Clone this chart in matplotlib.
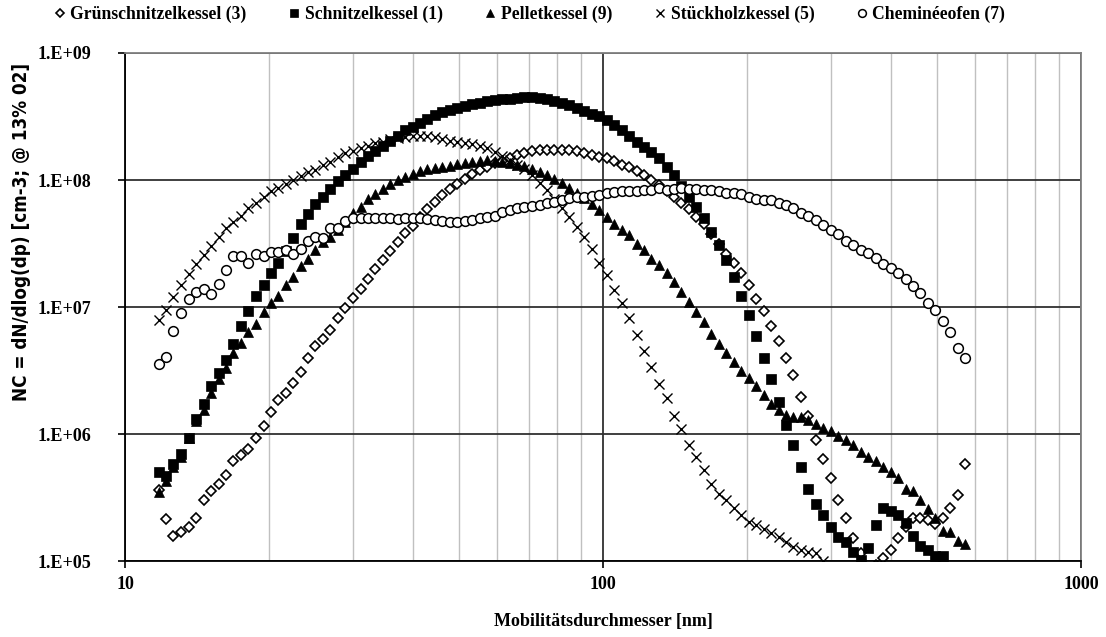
import numpy as np
import matplotlib
matplotlib.use("Agg")
import matplotlib.pyplot as plt
from matplotlib.ticker import LogLocator, FuncFormatter, NullLocator, FixedLocator

# SMPS channels (64 / decade) [nm]
dp = [11.8, 12.2, 12.6, 13.1, 13.6, 14.1, 14.6, 15.1, 15.7, 16.3,
      16.8, 17.5, 18.1, 18.8, 19.5, 20.2, 20.9, 21.7, 22.5, 23.3,
      24.1, 25.0, 25.9, 26.9, 27.9, 28.9, 30.0, 31.1, 32.2, 33.4,
      34.6, 35.9, 37.2, 38.5, 40.0, 41.4, 42.9, 44.5, 46.1, 47.8,
      49.6, 51.4, 53.3, 55.2, 57.3, 59.4, 61.5, 63.8, 66.1, 68.5,
      71.0, 73.7, 76.4, 79.1, 82.0, 85.1, 88.2, 91.4, 94.7, 98.2,
      101.8, 105.5, 109.4, 113.4, 117.6, 121.9, 126.3, 131.0, 135.8, 140.7,
      145.9, 151.2, 156.8, 162.5, 168.5, 174.7, 181.1, 187.7, 194.6, 201.7,
      209.1, 216.7, 224.7, 232.9, 241.4, 250.3, 259.5, 269.0, 278.8, 289.0,
      299.6, 310.6, 322.0, 333.8, 346.0, 358.7, 371.8, 385.4, 399.5, 414.2,
      429.4, 445.1, 461.4, 478.3, 495.8, 514.0, 532.8, 552.3, 572.5]

# log10(dN/dlogdp)
gruen_log = [5.56, 5.33, 5.20, 5.23, 5.27, 5.34, 5.48, 5.55, 5.61, 5.68,
             5.79, 5.835, 5.88, 5.97, 6.06, 6.17, 6.27, 6.32, 6.40, 6.49,
             6.60, 6.69, 6.75, 6.82, 6.91, 6.99, 7.07, 7.14, 7.22, 7.30,
             7.37, 7.44, 7.51, 7.58, 7.64, 7.71, 7.77, 7.83, 7.88, 7.93,
             7.97, 8.01, 8.045, 8.075, 8.10, 8.13, 8.15, 8.17, 8.195, 8.215,
             8.23, 8.235, 8.24, 8.24, 8.24, 8.235, 8.225, 8.21, 8.195, 8.185,
             8.17, 8.15, 8.12, 8.10, 8.07, 8.04, 8.00, 7.96, 7.91, 7.865,
             7.82, 7.77, 7.71, 7.65, 7.575, 7.50, 7.42, 7.35, 7.265, 7.17,
             7.065, 6.97, 6.85, 6.735, 6.60, 6.465, 6.29, 6.14, 5.95, 5.80,
             5.65, 5.48, 5.34, 5.18, 5.065, 4.93, 4.97, 5.02, 5.09, 5.18,
             5.27, 5.34, 5.34, 5.32, 5.29, 5.34, 5.42, 5.52, 5.76]

schnitzel_log = [5.70, 5.67, 5.76, 5.84, 5.97, 6.12, 6.24, 6.38, 6.48, 6.58,
                 6.71, 6.85, 6.97, 7.09, 7.17, 7.27, 7.35, 7.44, 7.54, 7.65,
                 7.73, 7.81, 7.87, 7.93, 7.99, 8.04, 8.09, 8.14, 8.19, 8.23,
                 8.27, 8.31, 8.35, 8.39, 8.42, 8.45, 8.48, 8.51, 8.535, 8.555,
                 8.57, 8.585, 8.60, 8.61, 8.62, 8.63, 8.635, 8.64, 8.645, 8.65,
                 8.65, 8.645, 8.635, 8.625, 8.61, 8.59, 8.57, 8.545, 8.52, 8.50,
                 8.47, 8.43, 8.39, 8.35, 8.30, 8.26, 8.22, 8.17, 8.10, 8.04,
                 7.95, 7.87, 7.79, 7.70, 7.59, 7.49, 7.37, 7.24, 7.09, 6.94,
                 6.77, 6.60, 6.43, 6.25, 6.07, 5.91, 5.74, 5.57, 5.45, 5.36,
                 5.27, 5.19, 5.15, 5.07, 5.01, 5.10, 5.28, 5.42, 5.39, 5.36,
                 5.30, 5.20, 5.12, 5.09, 5.04, 5.04]

pellet_log = [5.54, 5.63, 5.74, 5.82, 5.97, 6.10, 6.19, 6.32, 6.43, 6.52,
              6.64, 6.72, 6.80, 6.87, 6.96, 7.03, 7.09, 7.17, 7.24, 7.32,
              7.38, 7.45, 7.51, 7.555, 7.61, 7.67, 7.74, 7.79, 7.85, 7.89,
              7.93, 7.965, 8.00, 8.02, 8.05, 8.07, 8.085, 8.095, 8.10, 8.11,
              8.125, 8.135, 8.14, 8.15, 8.155, 8.15, 8.145, 8.135, 8.12, 8.11,
              8.09, 8.065, 8.04, 8.01, 7.98, 7.94, 7.90, 7.86, 7.81, 7.76,
              7.71, 7.65, 7.61, 7.57, 7.50, 7.45, 7.38, 7.33, 7.265, 7.20,
              7.12, 7.04, 6.96, 6.88, 6.79, 6.71, 6.64, 6.57, 6.50, 6.44,
              6.38, 6.31, 6.24, 6.19, 6.15, 6.135, 6.13, 6.11, 6.08, 6.05,
              6.02, 5.985, 5.95, 5.91, 5.86, 5.82, 5.79, 5.74, 5.70, 5.65,
              5.57, 5.55, 5.48, 5.41, 5.34, 5.24, 5.23, 5.16, 5.13]

stueck_log = [6.90, 6.98, 7.08, 7.17, 7.26, 7.34, 7.41, 7.48, 7.55, 7.62,
              7.67, 7.72, 7.78, 7.82, 7.87, 7.91, 7.94, 7.97, 8.00, 8.03,
              8.06, 8.08, 8.12, 8.14, 8.18, 8.21, 8.23, 8.25, 8.27, 8.29,
              8.30, 8.32, 8.33, 8.34, 8.345, 8.35, 8.345, 8.335, 8.32, 8.31,
              8.30, 8.29, 8.28, 8.265, 8.25, 8.22, 8.19, 8.16, 8.12, 8.09,
              8.04, 7.98, 7.92, 7.85, 7.78, 7.71, 7.63, 7.55, 7.46, 7.35,
              7.25, 7.13, 7.03, 6.91, 6.78, 6.65, 6.53, 6.39, 6.28, 6.14,
              6.04, 5.91, 5.82, 5.72, 5.61, 5.53, 5.48, 5.42, 5.36, 5.31,
              5.28, 5.25, 5.22, 5.19, 5.15, 5.11, 5.09, 5.07, 5.06, 5.00]

chem_log = [6.55, 6.61, 6.81, 6.95, 7.06, 7.12, 7.14, 7.10, 7.18, 7.29,
            7.40, 7.40, 7.35, 7.415, 7.40, 7.435, 7.43, 7.45, 7.42, 7.46,
            7.52, 7.555, 7.545, 7.62, 7.62, 7.68, 7.70, 7.70, 7.70, 7.70,
            7.70, 7.70, 7.695, 7.70, 7.70, 7.70, 7.695, 7.685, 7.675, 7.67,
            7.67, 7.675, 7.685, 7.70, 7.71, 7.72, 7.75, 7.765, 7.78, 7.79,
            7.795, 7.80, 7.815, 7.83, 7.84, 7.855, 7.865, 7.87, 7.875, 7.885,
            7.895, 7.905, 7.91, 7.91, 7.915, 7.92, 7.92, 7.935, 7.925, 7.93,
            7.94, 7.93, 7.93, 7.925, 7.92, 7.91, 7.90, 7.90, 7.89, 7.865,
            7.85, 7.84, 7.84, 7.82, 7.80, 7.78, 7.74, 7.72, 7.685, 7.645,
            7.605, 7.575, 7.52, 7.485, 7.45, 7.425, 7.385, 7.34, 7.31, 7.265,
            7.22, 7.165, 7.11, 7.03, 6.98, 6.89, 6.80, 6.675, 6.60]

labels = ["Grünschnitzelkessel (3)", "Schnitzelkessel (1)", "Pelletkessel (9)",
          "Stückholzkessel (5)", "Cheminéeofen (7)"]

serif = ["Liberation Serif", "DejaVu Serif"]
plt.rcParams["font.family"] = serif
plt.rcParams["font.weight"] = "bold"

fig = plt.figure(figsize=(11.06, 6.37), dpi=100)
ax = fig.add_axes([0.113, 0.1193, 0.8644, 0.7975])

series = [
    (gruen_log, dict(marker="D", ms=5.2, mfc="white", mec="black", mew=1.2)),
    (schnitzel_log, dict(marker="s", ms=7, mfc="black", mec="black", mew=0.5)),
    (pellet_log, dict(marker="^", ms=7.8, mfc="black", mec="black", mew=0.5)),
    (stueck_log, dict(marker="x", ms=7, mec="black", mew=1.0)),
    (chem_log, dict(marker="o", ms=7, mfc="white", mec="black", mew=1.1)),
]
handles = []
for (vals, st), lab in zip(series, labels):
    x = dp[:len(vals)]
    y = 10 ** np.array(vals)
    h, = ax.plot(x, y, ls="none", label=lab, **st)
    handles.append(h)

ax.set_xscale("log")
ax.set_yscale("log")
ax.set_xlim(10, 1000)
ax.set_ylim(1e5, 1e9)

ax.xaxis.set_major_locator(FixedLocator([10, 100, 1000]))
ax.xaxis.set_major_formatter(FuncFormatter(lambda v, p: f"{v:.0f}"))
ax.xaxis.set_minor_locator(LogLocator(base=10, subs=np.arange(2, 10)))
ax.yaxis.set_major_locator(FixedLocator([1e5, 1e6, 1e7, 1e8, 1e9]))
ax.yaxis.set_minor_locator(NullLocator())
ax.yaxis.set_major_formatter(FuncFormatter(lambda v, p: f"1.E+{int(round(np.log10(v))):02d}"))

ax.grid(which="minor", axis="x", color="#c0c0c0", lw=1.0)
ax.grid(which="major", axis="both", color="#303030", lw=1.3)
ax.set_axisbelow(True)

ax.tick_params(which="major", direction="out", length=5, width=1.2, color="black",
               labelsize=13)
ax.tick_params(axis="y", pad=19)
ax.tick_params(axis="x", pad=6)
ax.tick_params(which="minor", length=0)
for lab in ax.get_xticklabels() + ax.get_yticklabels():
    lab.set_fontweight("bold")

for s in ["left", "bottom"]:
    ax.spines[s].set_color("black")
    ax.spines[s].set_linewidth(1.3)
for s in ["top", "right"]:
    ax.spines[s].set_color("#808080")
    ax.spines[s].set_linewidth(1.3)

ax.set_xlabel("Mobilitätsdurchmesser [nm]", fontsize=13, fontweight="bold", labelpad=14)
fig.text(0.019, 0.636, "NC = dN/dlog(dp) [cm-3; @ 13% 02]", rotation=90,
         ha="center", va="center", fontsize=13.5, fontweight="bold",
         family=["Liberation Sans Narrow", "DejaVu Sans"], fontstretch="condensed")

leg = fig.legend(handles=handles, loc="upper left", bbox_to_anchor=(0.038, 1.01),
                 ncol=5, frameon=False, handlelength=0.6,
                 handletextpad=0.3, columnspacing=2.4, borderaxespad=0.3,
                 prop={"weight": "bold", "size": 12.7}, markerscale=0.8)

fig.savefig("out.png", dpi=100)
